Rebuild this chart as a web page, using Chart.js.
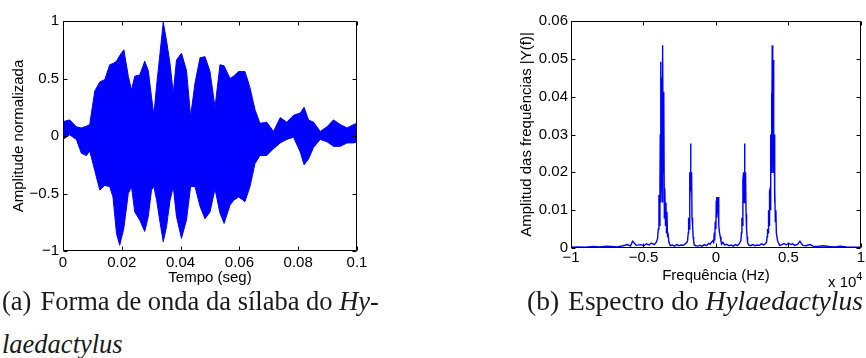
<!DOCTYPE html>
<html><head><meta charset="utf-8">
<script src="https://cdn.jsdelivr.net/npm/chart.js@4"></script>
<style>
html,body{margin:0;padding:0;background:#fff;}
body{width:866px;height:358px;position:relative;overflow:hidden;}
canvas{position:absolute;top:0;}
#c1{left:0}
#c2{left:433px}
.cap{position:absolute;font-family:"Liberation Serif","Times New Roman",serif;font-size:26.5px;line-height:26.5px;color:#1a1a1a;white-space:nowrap;}
.mult{position:absolute;font-family:"Liberation Sans",Arial,sans-serif;font-size:15px;line-height:15px;color:#000;white-space:nowrap;}
.mult span{font-size:11px;position:relative;top:-7px;}
</style></head><body>
<canvas id="c1" width="433" height="292"></canvas>
<canvas id="c2" width="433" height="292"></canvas>
<div class="cap" style="left:2px;top:288px">(a)<span style="margin-left:9px">Forma de onda da sílaba do <i>Hy-</i></span></div>
<div class="cap" style="left:2px;top:331px"><i>laedactylus</i></div>
<div class="cap" style="left:527px;top:287px;font-size:27.5px;line-height:27.5px">(b)<span style="margin-left:9px">Espectro do <i>Hylaedactylus</i></span></div>
<div class="mult" style="left:828px;top:274px">x 10<span>4</span></div>
<script>
// ---- (a) waveform envelope (time in s, normalized amplitude) ----
const waveTime = [0,0.00227,0.00455,0.00625,0.00795,0.00909,0.0108,0.0125,0.0142,0.0159,0.0170,0.0182,0.0193,0.0207,0.0222,0.0233,0.0244,0.0261,0.0278,0.0290,0.0301,0.0309,0.0318,0.0330,0.0341,0.0352,0.0364,0.0375,0.0386,0.0403,0.0420,0.0434,0.0449,0.0466,0.0483,0.0500,0.0517,0.0534,0.0548,0.0568,0.0580,0.0597,0.0619,0.0636,0.0653,0.0670,0.0693,0.0716,0.0739,0.0761,0.0784,0.0807,0.0820,0.0835,0.0852,0.0875,0.0898,0.0920,0.0943,0.0966,0.0989,0.1];
const waveUpper = [0.125,0.14,0.08,0.07,0.085,0.10,0.39,0.47,0.49,0.62,0.63,0.65,0.70,0.75,0.52,0.40,0.52,0.53,0.65,0.57,0.34,0.18,0.43,0.72,0.99,0.83,0.63,0.37,0.66,0.72,0.57,0.17,0.46,0.68,0.69,0.56,0.25,0.62,0.61,0.50,0.52,0.56,0.56,0.42,0.23,0.11,0.12,0.04,0.16,0.12,0.18,0.20,0.25,0.14,0.12,0.04,0.08,0.14,0.10,0.07,0.10,0.11];
const waveLower = [-0.03,0.01,-0.03,-0.15,-0.17,-0.13,-0.30,-0.47,-0.43,-0.44,-0.53,-0.85,-0.95,-0.80,-0.50,-0.44,-0.66,-0.73,-0.83,-0.70,-0.47,-0.44,-0.55,-0.75,-0.92,-0.79,-0.56,-0.44,-0.70,-0.89,-0.73,-0.44,-0.44,-0.61,-0.72,-0.66,-0.46,-0.67,-0.76,-0.60,-0.56,-0.53,-0.57,-0.44,-0.24,-0.17,-0.17,-0.11,-0.06,-0.03,-0.01,-0.14,-0.25,-0.20,-0.10,-0.03,-0.05,-0.09,-0.09,-0.06,-0.06,-0.05];
const waveXTicks = [0,0.02,0.04,0.06,0.08,0.1];
const waveYTicks = [-1,-0.5,0,0.5,1];

// ---- (b) spectrum (frequency in Hz, |Y(f)|) ----
const specFreq = [-10000,-9500,-9000,-8500,-8000,-7600,-7200,-6800,-6400,-6100,-5900,-5750,-5650,-5500,-5200,-4950,-4800,-4600,-4450,-4250,-4100,-4021,-3979,-3931,-3900,-3862,-3841,-3815,-3793,-3770,-3745,-3720,-3700,-3680,-3655,-3633,-3610,-3586,-3560,-3540,-3517,-3480,-3448,-3410,-3379,-3340,-3310,-3241,-3150,-3000,-2850,-2700,-2550,-2400,-2250,-2100,-2000,-1954,-1910,-1885,-1850,-1816,-1793,-1770,-1747,-1724,-1700,-1678,-1650,-1609,-1570,-1540,-1494,-1400,-1250,-1100,-950,-800,-650,-500,-400,-300,-184,-150,-115,-80,-46,0,23,46,69,92,115,138,161,185,207,250,299,350,391,480,600,750,900,1050,1200,1350,1500,1620,1724,1760,1793,1830,1862,1908,1954,1977,2000,2023,2046,2080,2116,2150,2185,2250,2400,2550,2700,2850,3000,3150,3300,3420,3494,3530,3563,3600,3632,3670,3701,3747,3770,3793,3815,3839,3862,3885,3908,3931,3955,3977,4000,4023,4046,4069,4100,4138,4170,4207,4250,4299,4400,4550,4700,4850,5000,5150,5300,5450,5650,5800,5880,6000,6200,6500,6700,7000,7400,7800,8200,8600,9000,9500,10000];
const specAmp = [0.0002,0.0003,0.0002,0.0004,0.0003,0.0005,0.0004,0.0003,0.0006,0.0009,0.0005,0.0018,0.0014,0.0007,0.0009,0.0006,0.0011,0.0008,0.0013,0.0009,0.0016,0.0026,0.005,0.014,0.006,0.0158,0.03,0.012,0.0492,0.025,0.045,0.018,0.03,0.012,0.0536,0.02,0.032,0.0413,0.008,0.009,0.0158,0.006,0.012,0.004,0.0096,0.003,0.004,0.0015,0.0006,0.0008,0.0005,0.0009,0.0006,0.0008,0.0007,0.0011,0.0015,0.002,0.004,0.008,0.005,0.02,0.012,0.018,0.0276,0.015,0.019,0.020,0.008,0.006,0.003,0.002,0.0008,0.0006,0.0005,0.0007,0.0005,0.0009,0.0006,0.0012,0.001,0.0016,0.002,0.0012,0.004,0.002,0.007,0.005,0.0125,0.0135,0.008,0.01,0.0133,0.011,0.0135,0.008,0.006,0.004,0.003,0.0018,0.001,0.0015,0.0008,0.001,0.0006,0.0008,0.0005,0.0009,0.0006,0.0012,0.002,0.004,0.008,0.006,0.018,0.020,0.012,0.0276,0.015,0.017,0.020,0.009,0.005,0.003,0.0015,0.0008,0.0006,0.0009,0.0006,0.0008,0.0007,0.0011,0.0008,0.0012,0.0015,0.003,0.005,0.004,0.01,0.006,0.015,0.0158,0.01,0.03,0.02,0.041,0.025,0.0536,0.03,0.035,0.02,0.0497,0.022,0.03,0.012,0.0158,0.007,0.01,0.004,0.004,0.002,0.0015,0.0007,0.0009,0.0012,0.0008,0.0013,0.0009,0.0011,0.0007,0.001,0.0018,0.0013,0.0007,0.0006,0.0009,0.0005,0.0004,0.0006,0.0004,0.0003,0.0005,0.0003,0.0002,0.0002];
const specXTicks = [-10000,-5000,0,5000,10000];
const specYTicks = [0,0.01,0.02,0.03,0.04,0.05,0.06];

const BLUE = '#0000ff';
const FONT = {family: '"Liberation Sans", Arial, Helvetica, sans-serif', size: 15};
const fmt = v => String(Number(Number(v).toFixed(4))).replace('-', '\u2212');
const setTicks = arr => s => { s.ticks = arr.map(v => ({value: v})); };

const boxTicks = {
  id: 'boxTicks',
  afterDraw(chart) {
    const {ctx, chartArea: a} = chart;
    const xs = chart.scales.x, ys = chart.scales.y;
    const L = Math.round(a.left) + 0.5, R = Math.round(a.right) - 0.5;
    const T = Math.round(a.top) + 0.5, B = Math.round(a.bottom) - 0.5;
    const len = 4;
    ctx.save();
    ctx.strokeStyle = '#000';
    ctx.lineWidth = 1;
    ctx.beginPath();
    ctx.rect(L, T, R - L, B - T);
    xs.ticks.forEach(t => {
      const p = Math.round(xs.getPixelForValue(t.value)) + 0.5;
      ctx.moveTo(p, B); ctx.lineTo(p, B - len);
      ctx.moveTo(p, T); ctx.lineTo(p, T + len);
    });
    ys.ticks.forEach(t => {
      const p = Math.round(ys.getPixelForValue(t.value)) + 0.5;
      ctx.moveTo(L, p); ctx.lineTo(L + len, p);
      ctx.moveTo(R, p); ctx.lineTo(R - len, p);
    });
    ctx.stroke();
    ctx.restore();
  }
};

function axis(opts) {
  return {
    type: 'linear', min: opts.min, max: opts.max,
    afterBuildTicks: setTicks(opts.ticks),
    afterFit: opts.fit,
    grid: {display: false, drawTicks: false},
    border: {display: false},
    ticks: {padding: opts.pad, color: '#000', font: FONT, maxRotation: 0, autoSkip: false, callback: opts.cb || (v => fmt(v))},
    title: {display: true, text: opts.title, color: '#000', font: FONT, padding: opts.tpad}
  };
}

new Chart(document.getElementById('c1'), {
  type: 'line',
  data: {datasets: [
    {data: waveTime.map((t, i) => ({x: t, y: waveUpper[i]})), borderColor: BLUE, backgroundColor: BLUE, borderWidth: 1, pointRadius: 0, fill: '+1', tension: 0},
    {data: waveTime.map((t, i) => ({x: t, y: waveLower[i]})), borderColor: BLUE, backgroundColor: BLUE, borderWidth: 1, pointRadius: 0, fill: false, tension: 0}
  ]},
  options: {
    responsive: false, animation: false, devicePixelRatio: 1,
    layout: {padding: {left: 0, top: 21, right: 76, bottom: 0}},
    plugins: {legend: {display: false}, tooltip: {enabled: false}},
    scales: {
      x: axis({min: 0, max: 0.1, ticks: waveXTicks, fit: s => { s.height = 41; }, pad: 3, title: 'Tempo (seg)', tpad: {top: 0, bottom: 5}}),
      y: axis({min: -1, max: 1, ticks: waveYTicks, fit: s => { s.width = 63; }, pad: 4, title: 'Amplitude normalizada', tpad: {top: 10, bottom: 0}})
    }
  },
  plugins: [boxTicks]
});

new Chart(document.getElementById('c2'), {
  type: 'line',
  data: {datasets: [
    {data: specFreq.map((f, i) => ({x: f, y: specAmp[i]})), borderColor: BLUE, borderWidth: 1.4, pointRadius: 0, fill: false, tension: 0}
  ]},
  options: {
    responsive: false, animation: false, devicePixelRatio: 1,
    layout: {padding: {left: 0, top: 21, right: 5, bottom: 0}},
    plugins: {legend: {display: false}, tooltip: {enabled: false}},
    scales: {
      x: axis({min: -10000, max: 10000, ticks: specXTicks, fit: s => { s.height = 44; }, pad: 1, title: 'Frequência (Hz)', tpad: {top: 0, bottom: 7}, cb: v => fmt(v / 10000)}),
      y: axis({min: 0, max: 0.06, ticks: specYTicks, fit: s => { s.width = 138; }, pad: 3, title: 'Amplitud das frequências |Y(f)|', tpad: {top: 85, bottom: 0}})
    }
  },
  plugins: [boxTicks]
});
</script>
</body></html>
